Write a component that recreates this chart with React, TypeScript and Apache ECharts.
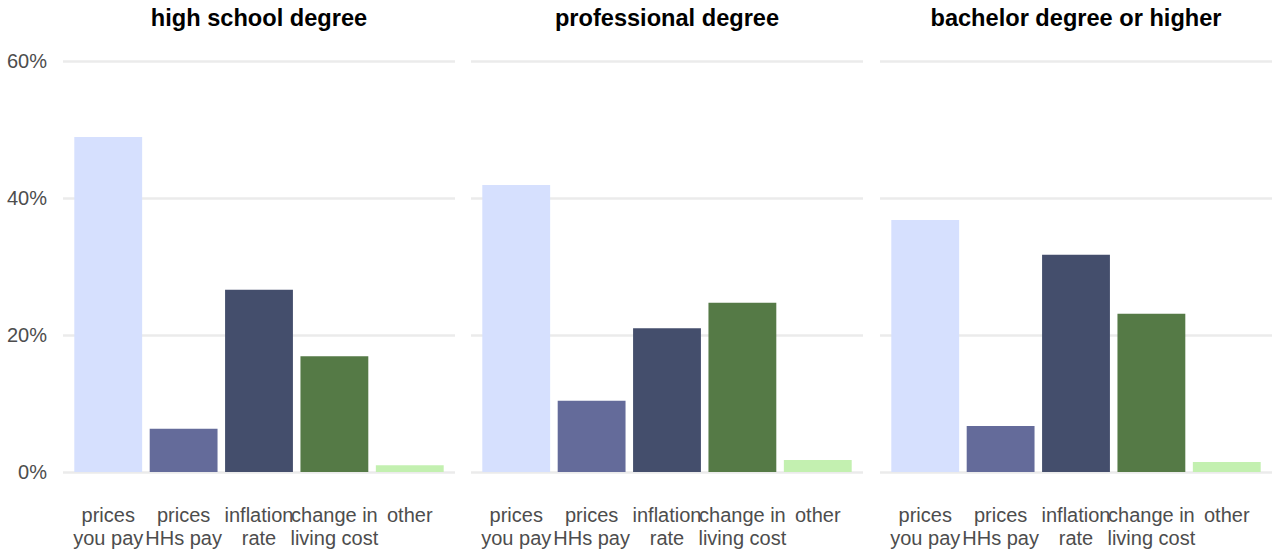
import React, { useEffect, useRef } from "react";
import * as echarts from "echarts";

const categories = ["prices\nyou pay", "prices\nHHs pay", "inflation\nrate", "change in\nliving cost", "other"];
const panelTitles = ["high school degree", "professional degree", "bachelor degree or higher"];
const highSchool = [48.9, 6.3, 26.6, 16.9, 1.0];
const professional = [41.9, 10.4, 21.0, 24.7, 1.75];
const bachelor = [36.8, 6.7, 31.7, 23.1, 1.45];
const barColors = ["#d6e0fe", "#646b9a", "#444e6c", "#557a46", "#c3f0b0"];
const yTicks = [0, 20, 40, 60];

const FONT = "'Liberation Sans', Arial, Helvetica, sans-serif";

export default function App() {
  const ref = useRef<HTMLDivElement>(null);
  useEffect(() => {
    if (!ref.current) return;
    const chart = echarts.init(ref.current, undefined, { renderer: "svg" });
    const panels = [highSchool, professional, bachelor];
    const lefts = [63, 471, 880];
    const W = 392;
    const u = W / 5.2;
    const top = 61;
    const height = 411;

    const grids: any[] = [];
    const xAxes: any[] = [];
    const yAxes: any[] = [];
    const series: any[] = [];
    const graphics: any[] = [];

    panels.forEach((vals, p) => {
      const L = lefts[p];
      grids.push({ left: L, top, width: W, height, containLabel: false });
      grids.push({ left: L + 0.1 * u, top, width: 5 * u, height, containLabel: false });
      const gw = 2 * p;
      const gn = 2 * p + 1;
      xAxes.push({ type: "value", gridIndex: gw, min: 0, max: 1, show: false });
      yAxes.push({
        type: "value",
        gridIndex: gw,
        min: yTicks[0],
        max: yTicks[yTicks.length - 1],
        interval: 20,
        axisLine: { show: false },
        axisTick: { show: false },
        axisLabel: {
          show: p === 0,
          formatter: "{value}%",
          margin: 16,
          color: "#4d4d4d",
          fontSize: 20,
          fontFamily: FONT,
        },
        splitLine: { show: true, lineStyle: { color: "#ebebeb", width: 2.5 } },
      });
      xAxes.push({
        type: "category",
        gridIndex: gn,
        data: categories,
        axisLine: { show: false },
        axisTick: { show: false },
        axisLabel: {
          interval: 0,
          hideOverlap: false,
          margin: 31,
          color: "#4d4d4d",
          fontSize: 20,
          lineHeight: 23,
          fontFamily: FONT,
          align: "center",
        },
      });
      yAxes.push({
        type: "value",
        gridIndex: gn,
        min: yTicks[0],
        max: yTicks[yTicks.length - 1],
        show: false,
        splitLine: { show: false },
      });
      series.push({
        type: "bar",
        xAxisIndex: gn,
        yAxisIndex: gn,
        barWidth: 0.9 * u,
        data: vals.map((v, i) => ({ value: v, itemStyle: { color: barColors[i] } })),
      });
      graphics.push({
        type: "text",
        x: L + W / 2,
        y: 18,
        style: {
          text: panelTitles[p],
          align: "center",
          verticalAlign: "middle",
          fontSize: 23.6,
          fontWeight: "bold",
          fontFamily: FONT,
          fill: "#000",
        },
      });
    });

    chart.setOption({
      animation: false,
      backgroundColor: "#ffffff",
      grid: grids,
      xAxis: xAxes,
      yAxis: yAxes,
      series,
      graphic: graphics,
    });
    return () => chart.dispose();
  }, []);
  return (
    <div
      ref={ref}
      style={{ position: "fixed", left: 0, top: 0, width: 1273, height: 554, background: "#fff" }}
    />
  );
}
